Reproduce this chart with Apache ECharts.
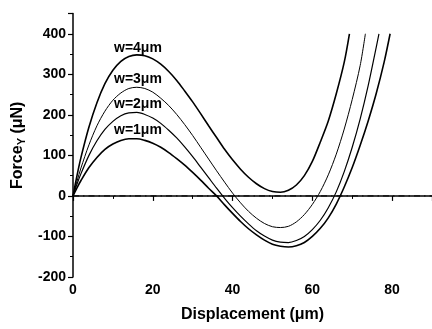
<!DOCTYPE html>
<html>
<head>
<meta charset="utf-8">
<script src="https://cdn.jsdelivr.net/npm/echarts@6/dist/echarts.min.js"></script>
<style>
html,body{margin:0;padding:0;background:#fff;}
#chart{width:432px;height:329px;}
</style>
</head>
<body>
<div id="chart"></div>
<script>
// Displacement (μm) and Force_Y (μN)
const disp1 = [0,1,2,4,6,8,10,12,14,16,18,20,22,24,26,28,30,32,34,36,38,40,42,44,46,48,50,52,54,56,58,60,62,64,66,68,70,72,74,76,78,79.5];
const force1 = [0,20,38,70,95,115,128,137,141,141,137,130,120,107,92,76,58,39,19,0,-22,-43,-63,-81,-96,-109,-119,-124,-126,-123,-115,-100,-80,-54,-20,22,70,125,185,252,330,400];

const disp2 = [0,1,2,4,6,8,10,12,14,16,18,20,22,24,26,28,30,32,34,36,38,40,42,44,46,48,50,52,54,56,58,60,62,64,66,68,70,72,74,76,76.7];
const force2 = [0,29,55,100,136,164,184,198,205,206,201,192,179,162,143,121,97,71,45,19,-6,-29,-50,-69,-86,-99,-109,-114,-115,-110,-100,-83,-60,-29,10,60,120,190,272,366,400];

const disp3 = [0,1,2,4,6,8,10,12,14,16,18,20,22,24,26,28,30,32,34,36,38,40,42,44,46,48,50,52,54,56,58,60,62,64,66,68,70,72,73.3];
const force3 = [0,36,69,126,173,209,236,254,265,268,265,256,241,223,201,176,149,120,91,62,34,7,-17,-38,-55,-68,-76,-78,-75,-64,-46,-21,11,52,103,165,238,322,400];

const disp4 = [0,1,2,4,6,8,10,12,14,16,18,20,22,24,26,28,30,32,34,36,38,40,42,44,46,48,50,52,54,56,58,60,62,64,66,68,69.3];
const force4 = [0,50,95,170,230,277,310,332,344,348,346,338,325,307,285,259,232,203,173,144,115,89,66,46,30,18,11,9,14,27,50,85,133,185,252,330,400];

const seriesNames = ['w=1μm','w=2μm','w=3μm','w=4μm'];
const baselineX = [0, 90];
const baselineY = [0, 0];

const FONT = '"Liberation Sans", Arial, sans-serif';
const pair = (xs, ys) => xs.map((x, i) => [x, ys[i]]);

const chart = echarts.init(document.getElementById('chart'), null, {renderer: 'canvas'});
const curves = [[disp1, force1, 1.6], [disp2, force2, 1.2], [disp3, force3, 1.0], [disp4, force4, 1.6]];

const option = {
  animation: false,
  backgroundColor: '#fff',
  grid: {left: 73, right: 0, top: 13.5, bottom: 52, containLabel: false},
  xAxis: {
    type: 'value', min: 0, max: 90, interval: 20,
    name: 'Displacement (μm)', nameLocation: 'middle', nameGap: 30,
    nameTextStyle: {fontFamily: FONT, fontWeight: 'bold', fontSize: 16, color: '#000'},
    axisLine: {lineStyle: {color: '#000', width: 1.5}},
    axisTick: {inside: false, length: 5, lineStyle: {color: '#000', width: 1.2}},
    minorTick: {show: true, splitNumber: 2, length: 3, lineStyle: {color: '#000', width: 1}},
    axisLabel: {fontFamily: FONT, fontWeight: 'bold', fontSize: 14, color: '#000', margin: 6,
      showMaxLabel: false, formatter: v => (v > 80 ? '' : String(v))},
    splitLine: {show: false}
  },
  yAxis: {
    type: 'value', min: -200, max: 450, interval: 100,
    name: '{a|Force}{s|Y}{a| (μN)}', nameLocation: 'middle', nameGap: 46, nameRotate: 90,
    nameTextStyle: {
      rich: {
        a: {fontFamily: FONT, fontWeight: 'bold', fontSize: 16, color: '#000'},
        s: {fontFamily: FONT, fontWeight: 'bold', fontSize: 11, color: '#000', verticalAlign: 'bottom', padding: [8, 0, 0, 0]}
      }
    },
    axisLine: {show: true, lineStyle: {color: '#000', width: 1.5}},
    axisTick: {show: true, inside: false, length: 5, lineStyle: {color: '#000', width: 1.2}},
    minorTick: {show: true, splitNumber: 2, length: 3, lineStyle: {color: '#000', width: 1}},
    axisLabel: {fontFamily: FONT, fontWeight: 'bold', fontSize: 14, color: '#000', margin: 7,
      showMaxLabel: false, formatter: v => (v > 400 ? '' : String(v))},
    splitLine: {show: false}
  },
  series: [
    {
      type: 'line', name: 'baseline', data: pair(baselineX, baselineY),
      symbol: 'none', silent: true,
      lineStyle: {color: '#000', width: 1, type: [6, 4, 1.5, 4]}
    },
    ...curves.map((c, i) => ({
      type: 'line', name: seriesNames[i], data: pair(c[0], c[1]),
      symbol: 'none', smooth: 0.3,
      lineStyle: {color: '#000', width: c[2]}
    }))
  ],
  graphic: [
    {type: 'text', left: 114, top: 41, style: {text: 'w=4μm', fontFamily: FONT, fontWeight: 'bold', fontSize: 14, fill: '#000'}},
    {type: 'text', left: 114, top: 72, style: {text: 'w=3μm', fontFamily: FONT, fontWeight: 'bold', fontSize: 14, fill: '#000'}},
    {type: 'text', left: 114, top: 97, style: {text: 'w=2μm', fontFamily: FONT, fontWeight: 'bold', fontSize: 14, fill: '#000'}},
    {type: 'text', left: 114, top: 123, style: {text: 'w=1μm', fontFamily: FONT, fontWeight: 'bold', fontSize: 14, fill: '#000'}}
  ]
};
chart.setOption(option);
</script>
</body>
</html>
